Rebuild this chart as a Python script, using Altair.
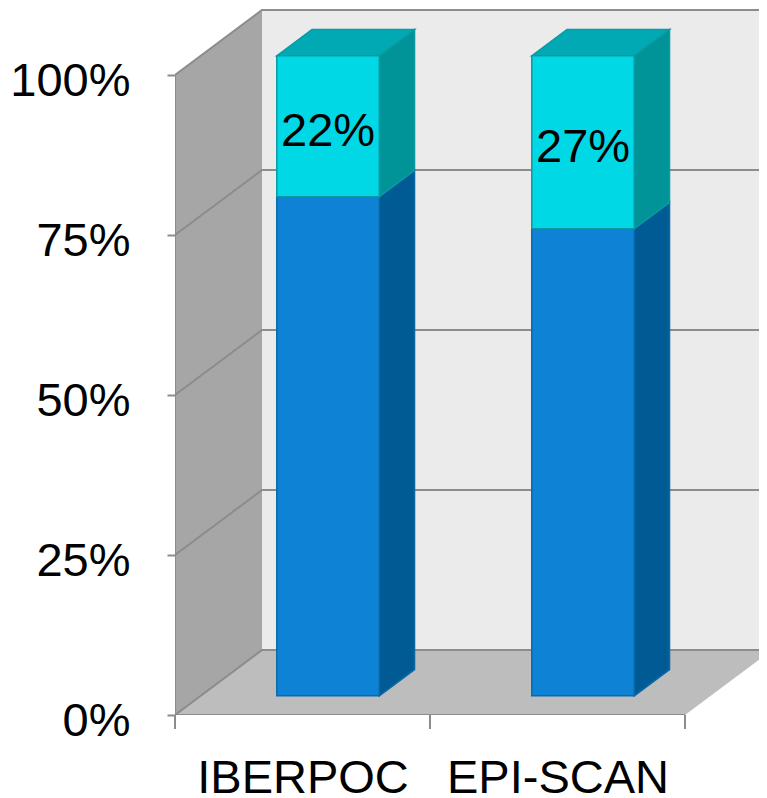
import altair as alt
import pandas as pd

categories = ["IBERPOC", "EPI-SCAN"]
series_lower = [78, 73]
series_upper = [22, 27]
y_ticks = [0, 25, 50, 75, 100]
x_ticks = [0, 1, 2]

PX_X, PX_Y = 255.0, 6.4          # pixels per category / per percent
PLOT_W, PLOT_H = 584, 707
DX, DY = 87 / PX_X, 65 / PX_Y    # full depth of the box in data units
Z0, Z1 = 0.295, 0.70             # front and back depth of the bars
BAR_L, BAR_W = 0.2985, 0.402
FONT = "Liberation Sans"
FONT_SIZE = 47
LINE = "#8c8c8c"


def proj(cat, val, z):
    return cat + z * DX, val + z * DY


faces = []


def face(name, fill, stroke, pts):
    for x, y, y2 in pts:
        faces.append(dict(face=name, fill=fill, stroke=stroke, x=x, y=y, y2=y2))


def box(name, i, lo, hi, c_front, c_side, c_top, s):
    xl, xr = i + BAR_L, i + BAR_L + BAR_W
    dxb = (Z1 - Z0) * DX
    dyb = (Z1 - Z0) * DY
    a, b = lo + Z0 * DY, hi + Z0 * DY
    face(name + "side", c_side, s, [(xr + Z0 * DX, a, b), (xr + Z0 * DX + dxb, a + dyb, b + dyb)])
    if c_top:
        face(name + "top", c_top, s, [
            (xl + Z0 * DX, b, b),
            (xl + Z0 * DX + dxb, b + dyb, b),
            (xr + Z0 * DX, b + dyb, b),
            (xr + Z0 * DX + dxb, b + dyb, b + dyb),
        ])
    face(name + "front", c_front, s, [(xl + Z0 * DX, a, b), (xr + Z0 * DX, a, b)])


walls = []
for name, fill, pts in [
    ("back", "#ebebeb", [(DX, DY, 100 + DY), (2 + DX, DY, 100 + DY)]),
    ("side", "#a6a6a6", [(0, 0, 100), (DX, DY, 100 + DY)]),
    ("floor", "#bdbdbd", [(0, 0, 0), (DX, DY, 0), (2, DY, 0), (2 + DX, DY, DY)]),
]:
    for x, y, y2 in pts:
        walls.append(dict(face=name, fill=fill, x=x, y=y, y2=y2))

lines = []
for v in y_ticks:
    for i, (x, y) in enumerate([(0, v), (DX, v + DY), (2 + DX, v + DY)]):
        lines.append(dict(line=f"g{v}", x=x, y=y, i=i))
for i, (x, y) in enumerate([(0, 0), (0, 100)]):
    lines.append(dict(line="axisY", x=x, y=y, i=i))
for i, (x, y) in enumerate([(0, 0), (2, 0)]):
    lines.append(dict(line="axisX", x=x, y=y, i=i))

for i, (lo, up) in enumerate(zip(series_lower, series_upper)):
    box(f"b{i}", i, 0, lo, "#0e83d5", "#005a94", None, "#0a6aa8")
    box(f"u{i}", i, lo, lo + up, "#00d8e6", "#009499", "#00a9b4", "#0a9aa3")

labels = []
for i, (cat, lo, up) in enumerate(zip(categories, series_lower, series_upper)):
    x, y = proj(i + BAR_L + BAR_W / 2, lo + up / 2, Z0)
    labels.append(dict(x=x, y=y, t=f"{up}%"))

xs = alt.Scale(domain=[0, PLOT_W / PX_X], range=[0, PLOT_W], nice=False, zero=False)
ys = alt.Scale(domain=[0, PLOT_H / PX_Y], range=[PLOT_H, 0], nice=False, zero=False)

label_expr = " : ".join(
    f"datum.value == {i + 0.5} ? '{c}'" for i, c in enumerate(categories)
) + " : ''"

x_axis = alt.Axis(
    values=[i + 0.5 for i in range(len(categories))], labelExpr=label_expr, title=None, grid=False,
    domain=False, ticks=False, labelFont=FONT, labelFontSize=FONT_SIZE, labelColor="black",
    labelPadding=40, labelOverlap=False, labelBound=False, labelFlush=False, labelAngle=0,
    labelLimit=600,
)
y_axis = alt.Axis(
    values=y_ticks, labelExpr="datum.value + '%'", title=None, grid=False, domain=False,
    tickColor=LINE, tickWidth=2, tickSize=8, labelFont=FONT, labelFontSize=FONT_SIZE, labelColor="black",
    labelPadding=37, labelOffset=6, labelOverlap=False, labelBound=False, labelFlush=False,
    labelLimit=300,
)
X = alt.X("x:Q", scale=xs, axis=x_axis)
Y = alt.Y("y:Q", scale=ys, axis=y_axis)
Y_NOSTACK = alt.Y("y:Q", scale=ys, axis=y_axis, stack=None)

wall_layer = alt.Chart(pd.DataFrame(walls)).mark_area(clip=True, interpolate="linear").encode(
    x=X,
    y=Y_NOSTACK,
    y2="y2:Q",
    detail="face:N",
    fill=alt.Fill("fill:N", scale=None),
)

line_layer = alt.Chart(pd.DataFrame(lines)).mark_line(clip=True, color=LINE, strokeWidth=2).encode(
    x=X,
    y=Y,
    detail="line:N",
    order="i:Q",
)

tick_layer = alt.Chart(pd.DataFrame({"x": x_ticks, "y": 0, "y2": -14 / PX_Y})).mark_rule(
    color=LINE, strokeWidth=2
).encode(
    x=X,
    y=Y,
    y2="y2:Q",
)

face_layer = alt.Chart(pd.DataFrame(faces)).mark_area(strokeWidth=1.5, interpolate="linear").encode(
    x=X,
    y=Y_NOSTACK,
    y2="y2:Q",
    detail="face:N",
    fill=alt.Fill("fill:N", scale=None),
    stroke=alt.Stroke("stroke:N", scale=None),
)

text_layer = alt.Chart(pd.DataFrame(labels)).mark_text(
    font=FONT, fontSize=FONT_SIZE, color="black", baseline="middle", align="center", dy=6
).encode(
    x=X,
    y=Y,
    text="t:N",
)

chart = (
    alt.layer(wall_layer, line_layer, tick_layer, face_layer, text_layer)
    .properties(
        width=PLOT_W,
        height=PLOT_H,
        padding={"left": 167, "top": 0, "right": 0, "bottom": 83},
        autosize=alt.AutoSizeParams(type="none"),
        background="white",
    )
    .configure_view(stroke=None)
)

chart.save("out.html", embed_options={"renderer": "svg", "actions": False})
